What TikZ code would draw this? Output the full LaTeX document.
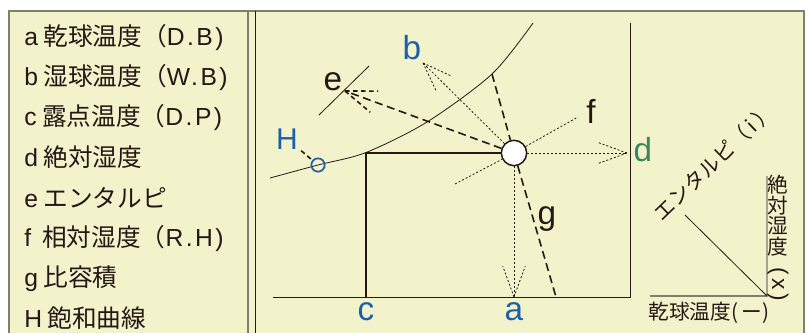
\documentclass[tikz,border=0pt]{standalone}
\usepackage{fontspec}
\setmainfont{Noto Sans CJK JP}
\newfontfamily\latin{Liberation Sans}
\newfontfamily\latinwide{Liberation Sans}[LetterSpace=10]
\usetikzlibrary{positioning,calc}
\definecolor{paper}{RGB}{243,243,203}
\definecolor{inkblue}{RGB}{28,96,170}
\definecolor{inkgreen}{RGB}{60,135,95}
\definecolor{ink}{RGB}{35,24,21}
\definecolor{rulegray}{RGB}{128,128,112}
\newcommand\lt[1]{{\latinwide #1}}

\begin{document}
\begin{tikzpicture}[
  x=0.75pt, y=-0.75pt,
  every node/.style={text=ink, inner sep=0pt},
  legend/.style={anchor=west, font=\fontsize{18.5}{18.5}\selectfont},
  lbl/.style={anchor=base, font=\fontsize{25}{25}\selectfont\latin},
  small/.style={font=\fontsize{15.5}{15.4}\selectfont},
  thinline/.style={draw=ink, line width=0.6pt},
  heavy/.style={draw=ink, line width=1.1pt},
  dashline/.style={draw=ink, line width=1.2pt, dash pattern=on 6pt off 3.5pt},
  shortdash/.style={draw=ink, line width=1.2pt, dash pattern=on 3.5pt off 2.5pt},
  dotline/.style={draw=ink, line width=0.6pt, dash pattern=on 1.5pt off 1.5pt},
  state/.style={circle, draw=ink, fill=white, line width=1.1pt, minimum size=19pt}
]
  \useasboundingbox (0,0) rectangle (810,332);
  \clip (0,0) rectangle (810,332);
  \fill[white] (0,0) rectangle (810,332);
  \filldraw[fill=paper, draw=rulegray, line width=1pt] (9,11) rectangle (804,345);
  \draw[rulegray, line width=1pt] (248,11) -- (248,345);
  \draw[thinline] (255,11) -- (255,345);

  % legend
  \foreach \txt [count=\i] in {\lt{a} 乾球温度（\lt{D.B)}, \lt{b} 湿球温度（\lt{W.B)},
      \lt{c} 露点温度（\lt{D.P)}, \lt{d} 絶対湿度, \lt{e} エンタルピ,
      \lt{f}\ \ 相対湿度（\lt{R.H)}, \lt{g} 比容積, \lt{H} 飽和曲線}
    \node[legend] (leg\i) at (24, {37+40.2*(\i-1)}) {\txt};

  % chart frame
  \coordinate (axL) at (273,297);
  \coordinate (axR) at (630,297);
  \coordinate (axT) at (630,23);
  \draw[thinline] (axL) -- (axR) -- (axT);

  % saturation curve
  \draw[thinline] plot[smooth] coordinates
    {(270,178) (318,165) (366,152.5) (427,122) (492,74) (533,23)};

  % state point
  \node[state] (pt) at (514,153) {};
  \coordinate (corner) at (366,153);
  \coordinate (cfoot) at (366,297);
  \coordinate (atip) at (514,297);
  \coordinate (btip) at (423,63);
  \coordinate (dtip) at (627,153);
  \coordinate (etip) at (345,91);
  \coordinate (flow) at (455,184);
  \coordinate (fhigh) at (578,117);
  \coordinate (gtop) at (492,74);
  \coordinate (gbot) at (556,297);

  \draw[heavy] (cfoot) -- (corner) -- (pt);
  \draw[dashline] (gtop) -- (pt) -- (gbot);
  \draw[dashline] (pt) -- (etip);
  \draw[dotline] (flow) -- (pt) -- (fhigh);
  \draw[dotline] (pt) -- (atip);
  \draw[dotline] (pt) -- (btip);
  \draw[dotline] (pt) -- (dtip);
  \foreach \s in {-20,20}{
    \draw[dotline] (atip) -- ($(atip)!24.75pt!\s:(pt)$);
    \draw[dotline] (btip) -- ($(btip)!24pt!\s:(pt)$);
    \draw[dotline] (dtip) -- ($(dtip)!22.5pt!\s:(pt)$);
    \draw[shortdash] (etip) -- ($(etip)!24.75pt!\s:(pt)$);
  }
  \coordinate (etickA) at (319,115);
  \coordinate (etickB) at (369,66);
  \draw[thinline] (etickA) -- (etickB);

  % labels
  \node[lbl, text=inkblue] (labc) at (366,320) {c};
  \node[lbl, text=inkblue] (laba) at (514,320) {a};
  \node[lbl, text=inkblue] (labb) at (412,59) {b};
  \node[lbl] (labe) at (333,90) {e};
  \node[lbl] (labf) at (591,123) {f};
  \node[lbl, text=inkgreen] (labd) at (643,161) {d};
  \node[lbl] (labg) at (547,224) {g};
  \node[lbl, text=inkblue, font=\fontsize{22.5}{22.5}\selectfont\latin] (labH) at (287,149) {H};
  \node[circle, draw=inkblue, line width=1.3pt, minimum size=10pt] (Hmark) at (318,165) {};
  \draw[shortdash, shorten <=3pt] (labH) -- (Hmark);

  % small axes
  \coordinate (sO) at (767,296);
  \coordinate (sX) at (650,296);
  \coordinate (sY) at (767,176);
  \coordinate (sD) at (685,215);
  \draw[rulegray, line width=1.3pt] (sX) -- (sO);
  \draw[thinline] (sY) -- (sO) -- (sD);
  \node[small, rotate=44] (enth) at (714,162) {エンタルピ（\,i\,）};
  \node[small, align=center, anchor=north] (absh) at (778,175) {絶\\対\\湿\\度};
  \node[rotate=-90, font=\fontsize{17}{17}\selectfont\latin] (absx) at (778,284) {(\,x\,)};
  \node[small] (dbt) at (709,313) {乾球温度(\,ー)};
\end{tikzpicture}
\end{document}
